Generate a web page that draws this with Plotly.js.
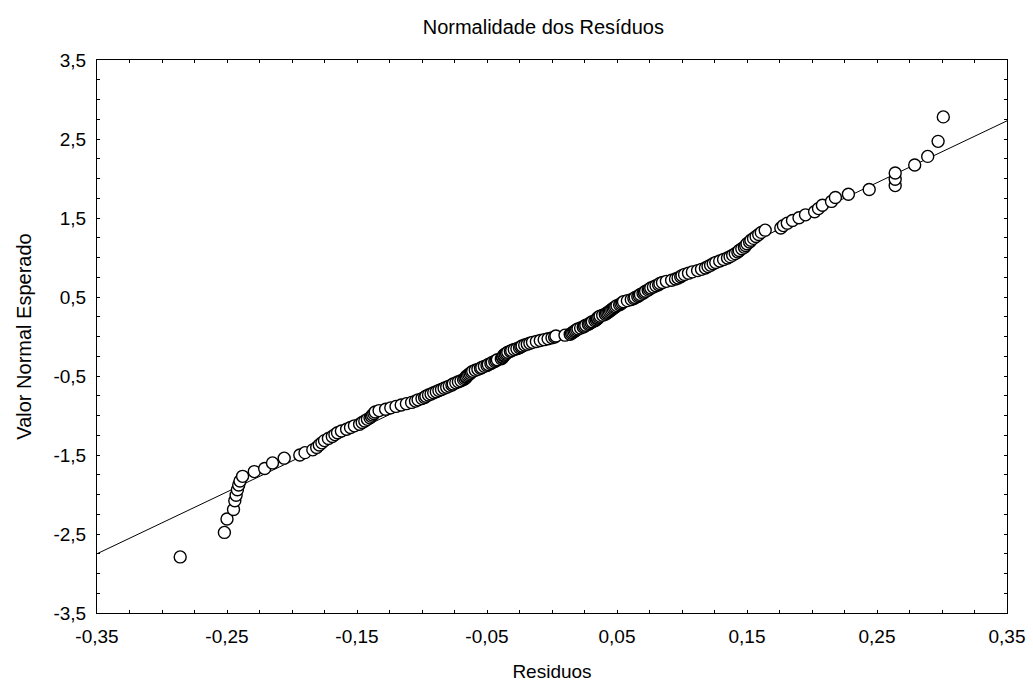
<!DOCTYPE html>
<html>
<head>
<meta charset="utf-8">
<script src="https://cdn.plot.ly/plotly-3.0.1.min.js"></script>
<style>html,body{margin:0;padding:0;background:#fff;}</style>
</head>
<body>
<div id="chart" style="width:1033px;height:683px;"></div>
<script>
// Residuals (x) and expected normal values (y)
const residuos = [
  -0.286, -0.252, -0.250, -0.245, -0.244, -0.243, -0.242, -0.241, -0.240, -0.238,
  -0.229, -0.221, -0.215, -0.206, -0.194, -0.190,
  -0.184, -0.181, -0.179, -0.177, -0.175, -0.172, -0.169, -0.167, -0.165, -0.162,
  -0.158, -0.155, -0.152, -0.148, -0.146, -0.144, -0.142, -0.140, -0.139, -0.138,
  -0.137, -0.136, -0.133, -0.128, -0.124, -0.120, -0.116, -0.112, -0.108, -0.105,
  -0.103, -0.100, -0.098, -0.097, -0.095, -0.093, -0.091, -0.089, -0.087, -0.085,
  -0.083, -0.081, -0.079, -0.077, -0.076, -0.074, -0.072, -0.070, -0.068, -0.067,
  -0.066, -0.066, -0.065, -0.064, -0.063, -0.062, -0.061, -0.059, -0.057, -0.055,
  -0.054, -0.052, -0.050, -0.049, -0.047, -0.046, -0.044, -0.043, -0.042, -0.039,
  -0.038, -0.038, -0.037, -0.037, -0.036, -0.035, -0.034, -0.032, -0.031, -0.029,
  -0.027, -0.025, -0.024, -0.023, -0.021, -0.019, -0.017, -0.015, -0.012, -0.009,
  -0.006, -0.003, 0.000, 0.002,
  0.003, 0.010, 0.014, 0.015, 0.016, 0.017, 0.018, 0.019, 0.020, 0.022,
  0.024, 0.025, 0.026, 0.028, 0.029, 0.030, 0.031, 0.033, 0.034, 0.035,
  0.035, 0.036, 0.037, 0.039, 0.041, 0.042, 0.043, 0.044, 0.045, 0.046,
  0.047, 0.048, 0.049, 0.050, 0.052, 0.053, 0.054, 0.055, 0.058, 0.061,
  0.063, 0.064, 0.066, 0.067, 0.068, 0.070, 0.071, 0.072, 0.074, 0.075,
  0.076, 0.078, 0.080, 0.082, 0.083, 0.085, 0.088, 0.092, 0.095, 0.097,
  0.099, 0.100, 0.102, 0.105, 0.108, 0.112, 0.115, 0.118, 0.120, 0.122,
  0.124, 0.126, 0.129, 0.132, 0.135, 0.137, 0.139, 0.141, 0.143, 0.144,
  0.146, 0.148, 0.149, 0.150, 0.152, 0.153, 0.155, 0.157, 0.159, 0.161,
  0.164, 0.176, 0.178, 0.181, 0.185, 0.190, 0.195, 0.202, 0.205, 0.208,
  0.215, 0.218, 0.228, 0.244, 0.264, 0.264, 0.264, 0.279, 0.289, 0.297, 0.301
];
const valorNormal = [
  -2.79, -2.48, -2.31, -2.19, -2.08, -2.01, -1.94, -1.88, -1.83, -1.77,
  -1.71, -1.67, -1.60, -1.54, -1.50, -1.47,
  -1.435, -1.404, -1.374, -1.346, -1.318, -1.292, -1.266, -1.242, -1.219, -1.196,
  -1.174, -1.152, -1.131, -1.110, -1.089, -1.069, -1.049, -1.030, -1.011, -0.993,
  -0.974, -0.956, -0.938, -0.920, -0.903, -0.885, -0.867, -0.850, -0.834, -0.818,
  -0.802, -0.786, -0.771, -0.756, -0.741, -0.727, -0.712, -0.698, -0.684, -0.670,
  -0.656, -0.642, -0.628, -0.614, -0.600, -0.587, -0.573, -0.560, -0.546, -0.533,
  -0.519, -0.506, -0.493, -0.480, -0.467, -0.454, -0.441, -0.428, -0.416, -0.403,
  -0.391, -0.378, -0.366, -0.354, -0.341, -0.329, -0.317, -0.305, -0.294, -0.282,
  -0.270, -0.258, -0.246, -0.235, -0.223, -0.211, -0.200, -0.188, -0.177, -0.165,
  -0.154, -0.143, -0.131, -0.120, -0.108, -0.097, -0.085, -0.074, -0.063, -0.051,
  -0.040, -0.029, -0.017, -0.006,
  0.006, 0.017, 0.029, 0.040, 0.051, 0.063, 0.074, 0.085, 0.097, 0.108,
  0.120, 0.131, 0.143, 0.154, 0.165, 0.177, 0.188, 0.200, 0.211, 0.223,
  0.235, 0.246, 0.258, 0.270, 0.282, 0.294, 0.305, 0.317, 0.329, 0.341,
  0.354, 0.366, 0.378, 0.391, 0.403, 0.416, 0.428, 0.441, 0.454, 0.467,
  0.480, 0.493, 0.506, 0.519, 0.533, 0.546, 0.560, 0.573, 0.587, 0.600,
  0.614, 0.628, 0.642, 0.656, 0.670, 0.684, 0.698, 0.712, 0.727, 0.741,
  0.756, 0.771, 0.786, 0.802, 0.818, 0.834, 0.850, 0.867, 0.885, 0.903,
  0.920, 0.938, 0.956, 0.974, 0.993, 1.011, 1.030, 1.049, 1.069, 1.089,
  1.110, 1.131, 1.152, 1.174, 1.196, 1.219, 1.242, 1.266, 1.292, 1.318,
  1.346, 1.374, 1.404, 1.435, 1.468, 1.503, 1.540, 1.579, 1.619, 1.661,
  1.71, 1.76, 1.80, 1.86, 1.91, 1.99, 2.07, 2.17, 2.28, 2.47, 2.78
];
// Reference (fitted) line end points
const linhaX = [-0.35, 0.35];
const linhaY = [-2.75, 2.73];

const xTickVals = [-0.35, -0.25, -0.15, -0.05, 0.05, 0.15, 0.25, 0.35];
const xTickText = ['-0,35', '-0,25', '-0,15', '-0,05', '0,05', '0,15', '0,25', '0,35'];
const yTickVals = [-3.5, -2.5, -1.5, -0.5, 0.5, 1.5, 2.5, 3.5];
const yTickText = ['-3,5', '-2,5', '-1,5', '-0,5', '0,5', '1,5', '2,5', '3,5'];

const fontFam = '"Liberation Sans", Arial, sans-serif';

const traces = [
  {
    x: linhaX, y: linhaY, type: 'scatter', mode: 'lines',
    line: {color: '#000', width: 1}, hoverinfo: 'skip', showlegend: false
  },
  {
    x: residuos, y: valorNormal, type: 'scatter', mode: 'markers',
    marker: {symbol: 'circle', size: 12, color: '#fff', line: {color: '#000', width: 1.4}},
    showlegend: false
  }
];

const axisCommon = {
  showgrid: false, zeroline: false, showline: true, linecolor: '#000', linewidth: 1,
  mirror: 'ticks', ticks: 'inside', ticklen: 3, tickcolor: '#000', tickwidth: 1,
  tickfont: {family: fontFam, size: 19, color: '#000'}
};

const layout = {
  width: 1033, height: 683,
  margin: {l: 97, r: 26, t: 60, b: 70},
  paper_bgcolor: '#fff', plot_bgcolor: '#fff',
  separators: ',.',
  showlegend: false,
  title: {
    text: 'Normalidade dos Resíduos',
    font: {family: fontFam, size: 20, color: '#000'},
    x: 0.526, xanchor: 'center', y: 0.96, yanchor: 'middle'
  },
  xaxis: Object.assign({}, axisCommon, {
    range: [-0.35, 0.35], tickmode: 'array', tickvals: xTickVals, ticktext: xTickText,
    minor: {dtick: 0.025, tick0: -0.35, ticks: 'inside', ticklen: 3, tickcolor: '#000', tickwidth: 1},
    ticklabelstandoff: 6,
    title: {text: 'Residuos', font: {family: fontFam, size: 19, color: '#000'}, standoff: 18}
  }),
  yaxis: Object.assign({}, axisCommon, {
    range: [-3.5, 3.5], tickmode: 'array', tickvals: yTickVals, ticktext: yTickText,
    minor: {dtick: 0.25, tick0: -3.5, ticks: 'inside', ticklen: 3, tickcolor: '#000', tickwidth: 1},
    ticklabelstandoff: 6,
    title: {text: 'Valor Normal Esperado', font: {family: fontFam, size: 20, color: '#000'}, standoff: 16}
  })
};

Plotly.newPlot('chart', traces, layout, {displayModeBar: false, staticPlot: true});
</script>
</body>
</html>
